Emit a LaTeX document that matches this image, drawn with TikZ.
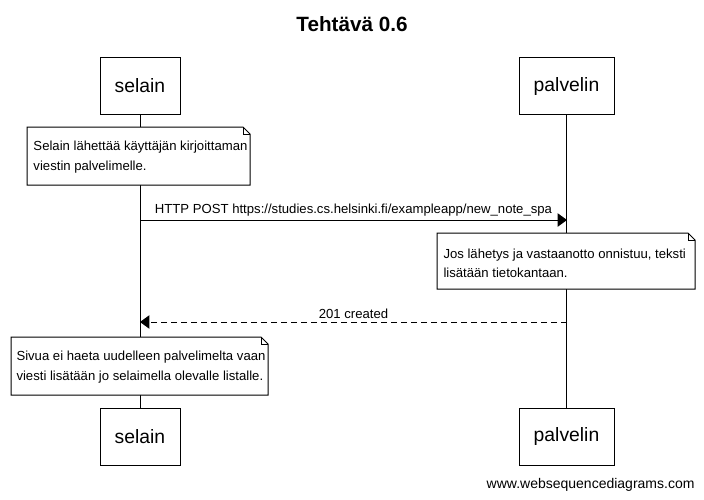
\documentclass[tikz,border=0pt]{standalone}
\usepackage{fontspec}
\setmainfont{Liberation Sans}
\usetikzlibrary{arrows.meta,calc}
\tikzset{
  actor/.style={draw, minimum height=42.75pt, inner sep=0pt, font=\fontsize{14.5}{16}\selectfont},
  notebox/.style={draw, fill=white},
  notetext/.style={anchor=west, align=left, inner sep=0pt, font=\fontsize{9.85}{14.5}\selectfont},
  msglabel/.style={midway, above, inner sep=2.5pt, font=\fontsize{9.85}{12}\selectfont},
  msg/.style={-{Triangle[length=7pt,width=10pt]}},
  reply/.style={msg, dash pattern=on 4.5pt off 3pt},
}

\begin{document}
\begin{tikzpicture}[x=0.75pt, y=-0.75pt, line width=0.75pt]
\useasboundingbox (0,0) rectangle (704,500);

\node[font=\fontsize{15.5}{18}\selectfont\bfseries] (title) at (352,24) {Tehtävä 0.6};

% osallistujat
\node[actor, minimum width=60pt] (selain) at (140,86) {selain};
\node[actor, minimum width=71.25pt] (palvelin) at (566.5,86) {palvelin};
\node[actor, minimum width=60pt] (selainb) at (140,436.5) {selain};
\node[actor, minimum width=71.25pt] (palvelinb) at (566.5,436.5) {palvelin};

% elämänviivat
\draw (selain) -- (selainb);
\draw (palvelin) -- (palvelinb);

% huomautus 1
\coordinate (n1a) at (27,127);
\coordinate (n1b) at (250,185);
\draw[notebox] (n1a) -- ($(n1a -| n1b)+(-7,0)$) -- ($(n1a -| n1b)+(0,7)$) -- (n1b) -- (n1a |- n1b) -- cycle;
\draw ($(n1a -| n1b)+(-7,0)$) -- ($(n1a -| n1b)+(-7,7)$) -- ($(n1a -| n1b)+(0,7)$);
\node[notetext] (n1) at (33,157) {Selain lähettää käyttäjän kirjoittaman\\viestin palvelimelle.};

% pyyntö
\coordinate (post1) at (140,220);
\coordinate (post2) at (567,220);
\draw[msg] (post1) -- node[msglabel] (postlabel) {HTTP POST https://studies.cs.helsinki.fi/exampleapp/new\_note\_spa} (post2);

% huomautus 2
\coordinate (n2a) at (437,233);
\coordinate (n2b) at (695,289);
\draw[notebox] (n2a) -- ($(n2a -| n2b)+(-7,0)$) -- ($(n2a -| n2b)+(0,7)$) -- (n2b) -- (n2a |- n2b) -- cycle;
\draw ($(n2a -| n2b)+(-7,0)$) -- ($(n2a -| n2b)+(-7,7)$) -- ($(n2a -| n2b)+(0,7)$);
\node[notetext] (n2) at (443,263) {Jos lähetys ja vastaanotto onnistuu, teksti\\lisätään tietokantaan.};

% vastaus
\coordinate (resp1) at (567,322);
\coordinate (resp2) at (140,322);
\draw[reply] (resp1) -- node[msglabel] (resplabel) {201 created} (resp2);

% huomautus 3
\coordinate (n3a) at (11,337);
\coordinate (n3b) at (268,395);
\draw[notebox] (n3a) -- ($(n3a -| n3b)+(-7,0)$) -- ($(n3a -| n3b)+(0,7)$) -- (n3b) -- (n3a |- n3b) -- cycle;
\draw ($(n3a -| n3b)+(-7,0)$) -- ($(n3a -| n3b)+(-7,7)$) -- ($(n3a -| n3b)+(0,7)$);
\node[notetext] (n3) at (16,367) {Sivua ei haeta uudelleen palvelimelta vaan\\viesti lisätään jo selaimella olevalle listalle.};

\node[font=\fontsize{10.5}{12}\selectfont, anchor=east, inner sep=0pt] (footer) at (695,485) {www.websequencediagrams.com};
\end{tikzpicture}
\end{document}
